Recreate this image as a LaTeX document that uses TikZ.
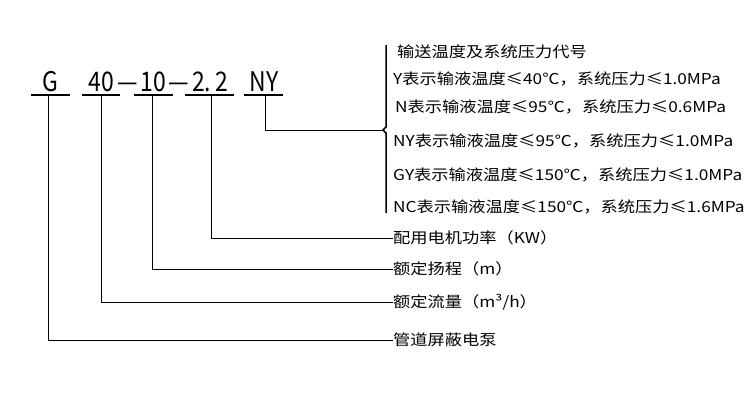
\documentclass[tikz,border=0pt]{standalone}
\usepackage{fontspec}
\setmainfont{Noto Sans CJK SC}
\newfontfamily\labfont[FakeStretch=1.15]{Noto Sans CJK SC}
\begin{document}
\begin{tikzpicture}[x=1pt, y=-1pt,
    code/.style={font=\fontsize{27}{27}\selectfont, inner sep=0pt, anchor=base, xscale=0.85},
    lab/.style={font=\labfont\fontsize{15}{15}\selectfont, inner sep=0pt, anchor=west},
    uline/.style={line width=2.5pt},
    lead/.style={line width=0.8pt}]
    \useasboundingbox (0,0) rectangle (750,400);

    % code letters and their underlines
    \node[code] (g) at (50,91) {G};
    \node[code] (n40) at (101,91) {40};
    \node[code] (d1) at (128,91) {—};
    \node[code] (n10) at (153,91) {10};
    \node[code] (d2) at (179,91) {—};
    \node[code] (n22) at (210,91) {2.\,2};
    \node[code] (ny) at (264,91) {NY};
    \draw[uline] (31,95) -- (70,95);
    \draw[uline] (82,95) -- (120,95);
    \draw[uline] (134,95) -- (173,95);
    \draw[uline] (185,95) -- (234,95);
    \draw[uline] (244,95) -- (283,95);

    % bracket of the medium classes
    \coordinate (btop) at (386,45);
    \coordinate (bbot) at (386,213);
    \coordinate (btip) at (383,130);
    \draw[line width=1.5pt] (btop) -- (386,127) -- (btip) -- (386,133) -- (bbot);

    \node[lab] (t0) at (397,52) {输送温度及系统压力代号};
    \node[lab] (t1) at (393,79) {Y表示输液温度≤40℃，系统压力≤1.0MPa};
    \node[lab] (t2) at (395,107) {N表示输液温度≤95℃，系统压力≤0.6MPa};
    \node[lab] (t3) at (393,141) {NY表示输液温度≤95℃，系统压力≤1.0MPa};
    \node[lab] (t4) at (393,175) {GY表示输液温度≤150℃，系统压力≤1.0MPa};
    \node[lab] (t5) at (393,207) {NC表示输液温度≤150℃，系统压力≤1.6MPa};

    \node[lab] (l22) at (393,238) {配用电机功率（KW）};
    \node[lab] (l10) at (393,269) {额定扬程（m）};
    \node[lab] (l40) at (393,302) {额定流量（m³/h）};
    \node[lab] (lg) at (393,340) {管道屏蔽电泵};

    % leaders
    \draw[lead] (265,95) |- (btip);
    \draw[lead] (211,95) |- (l22.west);
    \draw[lead] (152,95) |- (l10.west);
    \draw[lead] (101,95) |- (l40.west);
    \draw[lead] (48,95) |- (lg.west);
\end{tikzpicture}
\end{document}
